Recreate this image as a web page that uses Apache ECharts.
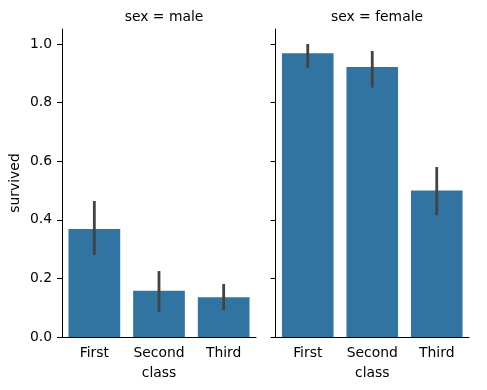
<!DOCTYPE html>
<html><head><meta charset="utf-8">
<script src="https://cdn.jsdelivr.net/npm/echarts@6/dist/echarts.min.js"></script>
<style>html,body{margin:0;padding:0;background:#fff}#c{width:487px;height:390px}</style>
</head><body><div id="c"></div>
<script>
const categories = ['First', 'Second', 'Third'];
const maleSurvived = [0.3689, 0.1574, 0.1354];
const maleLo = [0.280, 0.086, 0.092];
const maleHi = [0.464, 0.225, 0.181];
const femaleSurvived = [0.9681, 0.9211, 0.5000];
const femaleLo = [0.919, 0.851, 0.416];
const femaleHi = [1.000, 0.976, 0.580];
const yTicks = [0, 0.2, 0.4, 0.6, 0.8, 1.0];
const panelTitles = ['sex = male', 'sex = female'];

const font = 'DejaVu Sans';
const fs = 13.9;
const barColor = '#3274a1';
const errColor = '#424242';

const chart = echarts.init(document.getElementById('c'), null, {renderer: 'canvas'});

function xAxis(gi) {
  return {
    type: 'category', gridIndex: gi, data: categories,
    boundaryGap: true,
    name: 'class', nameLocation: 'middle', nameGap: 29,
    nameTextStyle: {fontFamily: font, fontSize: fs, color: '#000'},
    axisLine: {lineStyle: {color: '#000', width: 1}},
    axisTick: {alignWithLabel: true, interval: 0, length: 5, lineStyle: {color: '#000', width: 1}},
    axisLabel: {interval: 0, hideOverlap: false, fontFamily: font, fontSize: fs, color: '#000', margin: 9},
    splitLine: {show: false}
  };
}
function yAxis(gi, showLabels) {
  return {
    type: 'value', gridIndex: gi, min: 0, max: 1.051,
    name: showLabels ? 'survived' : '', nameLocation: 'middle', nameGap: 40,
    nameTextStyle: {fontFamily: font, fontSize: fs, color: '#000'},
    axisLine: {show: true, lineStyle: {color: '#000', width: 1}},
    axisTick: {show: true, length: 5, customValues: yTicks, lineStyle: {color: '#000', width: 1}},
    axisLabel: {show: showLabels, customValues: yTicks, fontFamily: font, fontSize: fs, color: '#000', margin: 10,
      formatter: v => v.toFixed(1)},
    splitLine: {show: false}
  };
}
function errSeries(gi, lo, hi) {
  return {
    type: 'custom', xAxisIndex: gi, yAxisIndex: gi, z: 10,
    data: categories.map((c, i) => [i, lo[i], hi[i]]),
    renderItem: function (params, api) {
      const a = api.coord([api.value(0), api.value(1)]);
      const b = api.coord([api.value(0), api.value(2)]);
      return {type: 'line', shape: {x1: a[0], y1: a[1], x2: b[0], y2: b[1]},
        style: {stroke: errColor, lineWidth: 2.8}};
    }
  };
}

chart.setOption({
  animation: false,
  backgroundColor: '#fff',
  title: [
    {text: panelTitles[0], left: 159, top: 5, textAlign: 'center',
     textStyle: {fontFamily: font, fontSize: fs, fontWeight: 'normal', color: '#000'}},
    {text: panelTitles[1], left: 372, top: 5, textAlign: 'center',
     textStyle: {fontFamily: font, fontSize: fs, fontWeight: 'normal', color: '#000'}}
  ],
  grid: [
    {left: 62, width: 194, top: 29, height: 308},
    {left: 275.5, width: 193.5, top: 29, height: 308}
  ],
  xAxis: [xAxis(0), xAxis(1)],
  yAxis: [yAxis(0, true), yAxis(1, false)],
  series: [
    {type: 'bar', xAxisIndex: 0, yAxisIndex: 0, data: maleSurvived, barWidth: '80%',
     itemStyle: {color: barColor}},
    {type: 'bar', xAxisIndex: 1, yAxisIndex: 1, data: femaleSurvived, barWidth: '80%',
     itemStyle: {color: barColor}},
    errSeries(0, maleLo, maleHi),
    errSeries(1, femaleLo, femaleHi)
  ]
});
</script></body></html>
